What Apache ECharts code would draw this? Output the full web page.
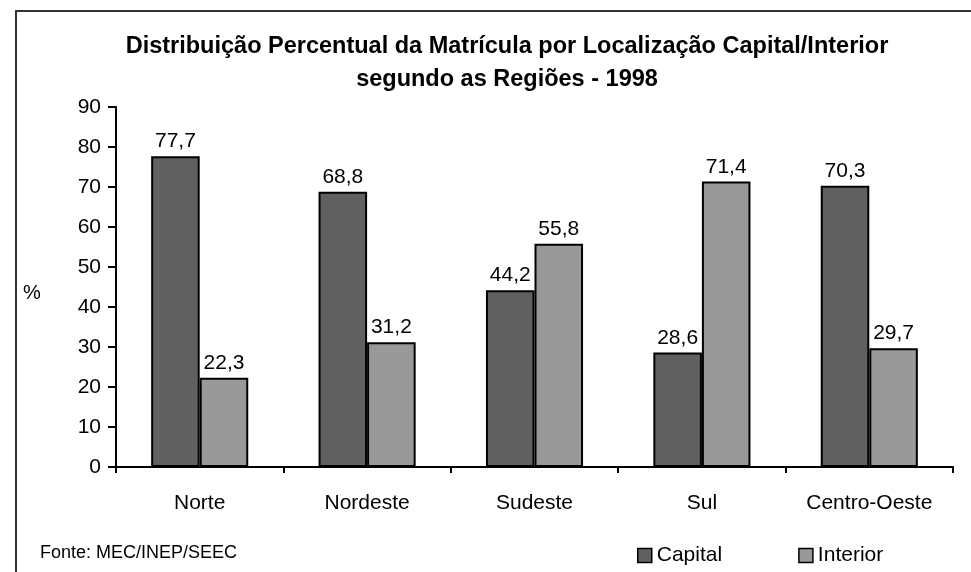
<!DOCTYPE html>
<html>
<head>
<meta charset="utf-8">
<script src="https://cdn.jsdelivr.net/npm/echarts@6/dist/echarts.min.js"></script>
<style>
  html, body { margin: 0; padding: 0; background: #fff; }
  #chart { width: 971px; height: 572px; }
</style>
</head>
<body>
<div id="chart"></div>
<script>
var regioes = ['Norte', 'Nordeste', 'Sudeste', 'Sul', 'Centro-Oeste'];
var capital = [77.7, 68.8, 44.2, 28.6, 70.3];
var interior = [22.3, 31.2, 55.8, 71.4, 29.7];
var yTicks = [0, 10, 20, 30, 40, 50, 60, 70, 80, 90];

var font = '"Liberation Sans", Arial, sans-serif';

function virgula(p) {
  return p.value.toFixed(1).replace('.', ',');
}

var chart = echarts.init(document.getElementById('chart'));

chart.setOption({
  animation: false,
  textStyle: { fontFamily: font },
  title: {
    text: 'Distribuição Percentual da Matrícula por Localização Capital/Interior\nsegundo as Regiões - 1998',
    left: 502,
    top: 25,
    textAlign: 'center',
    textStyle: { fontFamily: font, fontSize: 23.5, fontWeight: 'bold', color: '#000', lineHeight: 33 }
  },
  legend: {
    left: 632,
    top: 540,
    itemWidth: 14,
    itemHeight: 14,
    itemGap: 76,
    icon: 'rect',
    itemStyle: { borderColor: '#000', borderWidth: 1.5 },
    textStyle: { fontFamily: font, fontSize: 21, color: '#000' },
    data: ['Capital', 'Interior']
  },
  grid: { left: 116, right: 18, top: 107, bottom: 105, containLabel: false },
  xAxis: {
    type: 'category',
    data: regioes,
    axisLine: { lineStyle: { color: '#000', width: 2 } },
    axisTick: { show: true, length: 6, lineStyle: { color: '#000', width: 2 } },
    axisLabel: { color: '#000', fontSize: 21, margin: 26 }
  },
  yAxis: {
    type: 'value',
    min: yTicks[0],
    max: yTicks[yTicks.length - 1],
    interval: 10,
    splitLine: { show: false },
    axisLine: { show: true, lineStyle: { color: '#000', width: 2 } },
    axisTick: { show: true, length: 8, lineStyle: { color: '#000', width: 2 } },
    axisLabel: { color: '#000', fontSize: 21, margin: 15 }
  },
  series: [
    {
      name: 'Capital',
      type: 'bar',
      data: capital,
      barGap: '0%',
      barCategoryGap: '42%',
      itemStyle: { color: '#606060', borderColor: '#000', borderWidth: 2 },
      label: { show: true, position: 'top', distance: 4, color: '#000', fontSize: 21, formatter: virgula }
    },
    {
      name: 'Interior',
      type: 'bar',
      data: interior,
      itemStyle: { color: '#999999', borderColor: '#000', borderWidth: 2 },
      label: { show: true, position: 'top', distance: 4, color: '#000', fontSize: 21, formatter: virgula }
    }
  ],
  graphic: [
    {
      type: 'polyline',
      shape: { points: [[16, 572], [16, 11], [971, 11]] },
      style: { stroke: '#333', lineWidth: 2, fill: null }
    },
    {
      type: 'text',
      left: 23,
      top: 283,
      style: { text: '%', font: '20px ' + font, fill: '#000' }
    },
    {
      type: 'text',
      left: 40,
      top: 544,
      style: { text: 'Fonte: MEC/INEP/SEEC', font: '18px ' + font, fill: '#000' }
    }
  ]
});
</script>
</body>
</html>
